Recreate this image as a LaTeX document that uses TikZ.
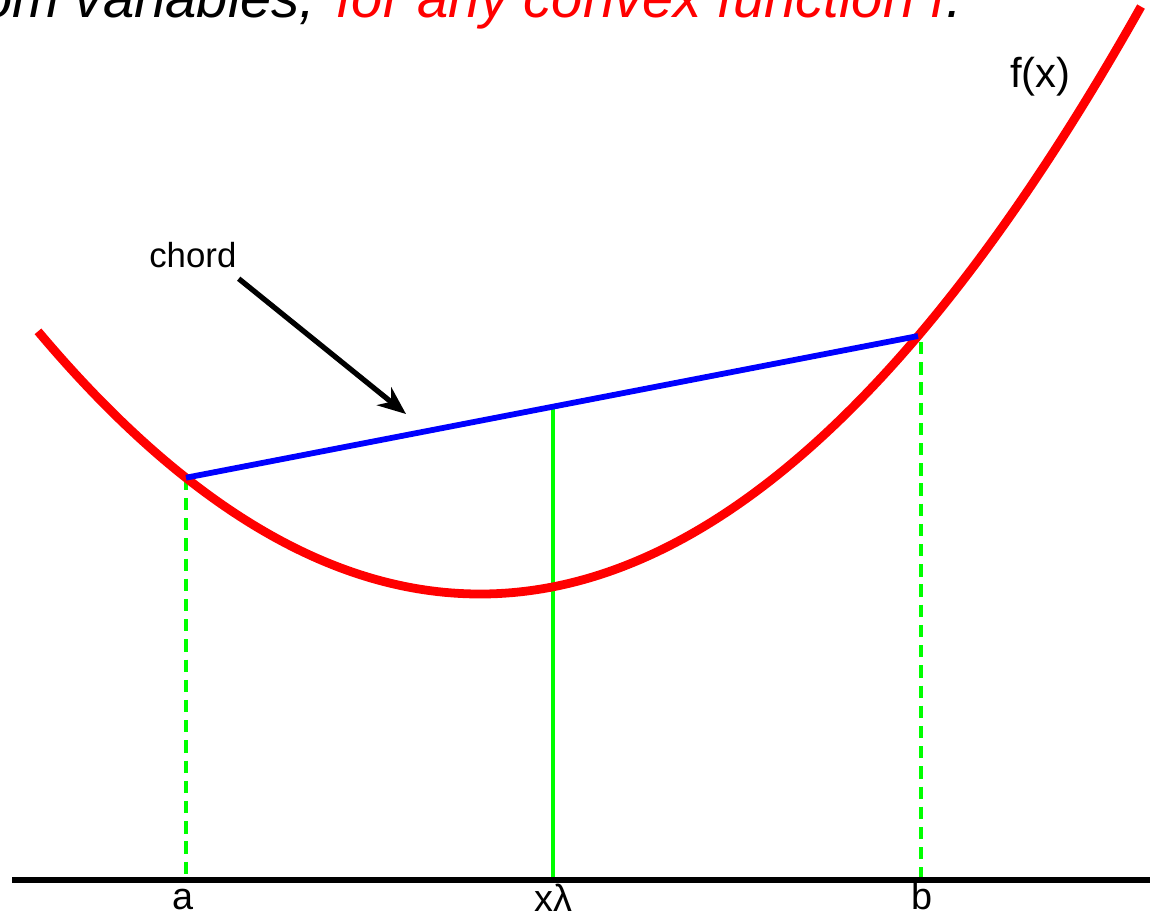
\documentclass[tikz,border=0pt]{standalone}
\usepackage{fontspec}
\setmainfont{Liberation Sans}
\usetikzlibrary{arrows.meta}
\definecolor{pgreen}{RGB}{0,255,0}
\begin{document}
\begin{tikzpicture}[x=0.02cm,y=-0.02cm,
  curve/.style={red, line width=5pt},
  chordline/.style={blue, line width=3.3pt},
  axisline/.style={black, line width=3.3pt},
  guide/.style={pgreen, line width=2.1pt},
  guidedash/.style={guide, dash pattern=on 7pt off 4.5pt},
  pointer/.style={black, line width=3pt, -{Stealth[length=16pt,width=13pt,inset=5pt]}},
  lbl/.style={font=\fontsize{21.5}{24}\selectfont, inner sep=0pt, anchor=base},
  titletext/.style={font=\fontsize{32}{36}\selectfont\itshape, inner sep=0pt},
]
\useasboundingbox (0,0) rectangle (1159,914);
\clip (0,0) rectangle (1159,914);
\fill[white] (0,0) rectangle (1159,914);

% title (cut off at top)
\node[titletext, anchor=base east] (title1) at (316,17) {om variables,};
\node[titletext, anchor=base west, text=red] (title2) at (336,17) {for any convex function f};
\node[titletext, anchor=base west] (title3) at (title2.base east) {.};

% points
\coordinate (A) at (186,477.7);
\coordinate (B) at (918,336);
\coordinate (M) at (553,405.3);
\coordinate (Bt) at (921,342);
\coordinate (Aa) at (186,880);
\coordinate (Mx) at (553,880);
\coordinate (Bb) at (921,880);
\coordinate (L) at (12,880);
\coordinate (R) at (1150,880);

% guides
\draw[guidedash] (A) -- (Aa);
\draw[guidedash] (Bt) -- (Bb);
\draw[guide] (M) -- (Mx);

% axis
\draw[axisline] (L) -- (R);

% convex function
\draw[curve] plot[domain=38:1141, samples=150, smooth] (\x, {594-((\x-480)*0.036674)^2});

% chord
\draw[chordline] (A) -- (B);

% labels
\node[lbl] (la) at (183,909) {a};
\node[lbl] (lx) at (553,911) {xλ};
\node[lbl] (lb) at (922,909) {b};
\node[font=\fontsize{23.8}{26}\selectfont, anchor=base west, inner sep=0pt] (fx) at (1010,87) {f(x)};
\node[font=\fontsize{19.8}{22}\selectfont, anchor=base west, inner sep=0pt] (ch) at (149,267) {chord};

\coordinate (tip) at (406,414);
\draw[pointer] ([shift={(2,11)}]ch.south east) -- (tip);
\end{tikzpicture}
\end{document}
